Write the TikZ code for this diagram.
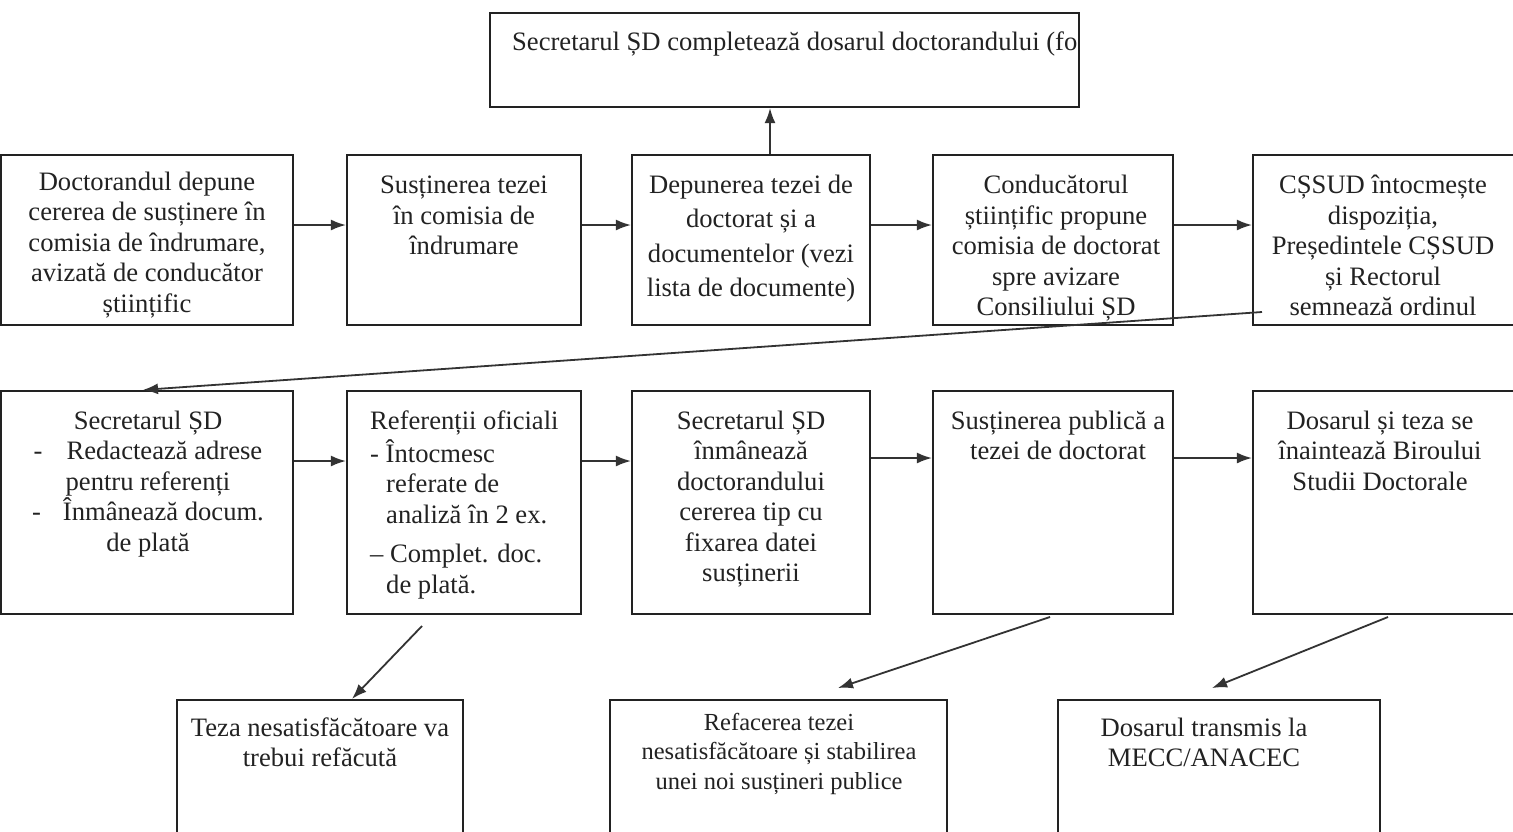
\documentclass[tikz,border=0pt]{standalone}
\usepackage{fontspec}
\setmainfont{Liberation Serif}
\usetikzlibrary{arrows.meta,calc}
\definecolor{ink}{HTML}{222222}
\definecolor{linec}{HTML}{333333}
\tikzset{
  box/.style={draw=ink, line width=2.2pt, inner sep=0pt, rectangle},
  txt/.style={font=\fontsize{26.6}{30.5}\selectfont, text=ink, align=center, inner sep=0pt},
  smalltxt/.style={font=\fontsize{24.5}{29.5}\selectfont, text=ink, align=center, inner sep=0pt},
  arr/.style={draw=linec, line width=1.8pt, -{Latex[length=15pt,width=11pt]}},
}
\begin{document}
\begin{tikzpicture}[x=1pt,y=-1pt]
\useasboundingbox (0,0) rectangle (1513,831);
\clip (0,0) rectangle (1513,831);
\fill[white] (0,0) rectangle (1513,831);

% boxes
\node[box, minimum width=589pt, minimum height=94pt] (top) at (784.5,60) {};
\node[box, minimum width=292pt, minimum height=170pt] (b1) at (147,240) {};
\node[box, minimum width=234pt, minimum height=170pt] (b2) at (464,240) {};
\node[box, minimum width=238pt, minimum height=170pt] (b3) at (751,240) {};
\node[box, minimum width=240pt, minimum height=170pt] (b4) at (1053,240) {};
\node[box, minimum width=277pt, minimum height=170pt] (b5) at (1391.5,240) {};
\node[box, minimum width=292pt, minimum height=223pt] (b6) at (147,502.5) {};
\node[box, minimum width=234pt, minimum height=223pt] (b7) at (464,502.5) {};
\node[box, minimum width=238pt, minimum height=223pt] (b8) at (751,502.5) {};
\node[box, minimum width=240pt, minimum height=223pt] (b9) at (1053,502.5) {};
\node[box, minimum width=277pt, minimum height=223pt] (b10) at (1391.5,502.5) {};
\node[box, minimum width=286pt, minimum height=150pt] (b11) at (320,775) {};
\node[box, minimum width=337pt, minimum height=150pt] (b12) at (778.5,775) {};
\node[box, minimum width=322pt, minimum height=150pt] (b13) at (1219,775) {};

% top text, cut by the box edge
\begin{scope}
  \clip (top.south west) rectangle (top.north east);
  \node[txt, anchor=base west] (toptxt) at (512,50) {Secretarul ȘD completează dosarul doctorandului (fo};
\end{scope}

% row 1 texts
\node[txt] (t1) at (147,245) {Doctorandul depune\\cererea de susținere în\\comisia de îndrumare,\\avizată de conducător\\științific};
\node[txt, anchor=north] (t2) at (464,172) {\strut Susținerea tezei\\în comisia de\\îndrumare};
\node[txt, anchor=north, font=\fontsize{26.6}{34.5}\selectfont] (t3) at (751,169) {\strut Depunerea tezei de\\doctorat și a\\documentelor (vezi\\lista de documente)};
\node[txt, anchor=north] (t4) at (1056,172) {\strut Conducătorul\\științific propune\\comisia de doctorat\\spre avizare\\Consiliului ȘD};
\node[txt, anchor=north] (t5) at (1383,172) {\strut CȘSUD întocmește\\dispoziția,\\Președintele CȘSUD\\și Rectorul\\semnează ordinul};

% row 2 texts
\node[txt, anchor=north] (t6) at (148,407.5) {\strut Secretarul ȘD\\-\hspace{24pt}Redactează adrese\\pentru referenți\\-\hspace{22pt}Înmânează docum.\\de plată};
\node[txt, anchor=north west, align=left] (t7) at (370,407.5) {\strut Referenții oficiali\\- Întocmesc\\\hspace*{16pt}referate de\\\hspace*{16pt}analiză în 2 ex.\\[9pt]– Complet. doc.\\\hspace*{16pt}de plată.};
\node[txt, anchor=north] (t8) at (751,407.5) {\strut Secretarul ȘD\\înmânează\\doctorandului\\cererea tip cu\\fixarea datei\\susținerii};
\node[txt, anchor=north] (t9) at (1058,407.5) {\strut Susținerea publică a\\tezei de doctorat};
\node[txt, anchor=north] (t10) at (1380,407.5) {\strut Dosarul și teza se\\înaintează Biroului\\Studii Doctorale};

% row 3 texts
\node[txt, anchor=north] (t11) at (320,714.5) {\strut Teza nesatisfăcătoare va\\trebui refăcută};
\node[smalltxt, anchor=north] (t12) at (779,709.5) {\strut Refacerea tezei\\nesatisfăcătoare și stabilirea\\unei noi susțineri publice};
\node[txt, anchor=north] (t13) at (1204,714.5) {\strut Dosarul transmis la\\MECC/ANACEC};

% connectors row 1
\draw[arr] ([yshift=15pt]b1.east) -- ([yshift=15pt]b2.west);
\draw[arr] ([yshift=15pt]b2.east) -- ([yshift=15pt]b3.west);
\draw[arr] ([yshift=15pt]b3.east) -- ([yshift=15pt]b4.west);
\draw[arr] ([yshift=15pt]b4.east) -- ([yshift=15pt]b5.west);
\coordinate (s3) at ([xshift=19pt]b3.north);
\draw[arr] (s3) -- (top.south -| s3);

% long return connector
\coordinate (s5) at (1262,312);
\draw[arr] (s5) -- ([xshift=-4pt]b6.north);

% connectors row 2
\draw[arr] ([yshift=41.5pt]b6.east) -- ([yshift=41.5pt]b7.west);
\draw[arr] ([yshift=41.5pt]b7.east) -- ([yshift=41.5pt]b8.west);
\draw[arr] ([yshift=44.5pt]b8.east) -- ([yshift=44.5pt]b9.west);
\draw[arr] ([yshift=44.5pt]b9.east) -- ([yshift=44.5pt]b10.west);

% connectors to row 3
\coordinate (s7) at (422,626);
\draw[arr] (s7) -- ([xshift=32pt]b11.north);
\coordinate (s9) at (1050,617);
\coordinate (e12) at (838,688);
\draw[arr] (s9) -- (e12);
\coordinate (s10) at (1388,617);
\coordinate (e13) at (1212,688);
\draw[arr] (s10) -- (e13);
\end{tikzpicture}
\end{document}
